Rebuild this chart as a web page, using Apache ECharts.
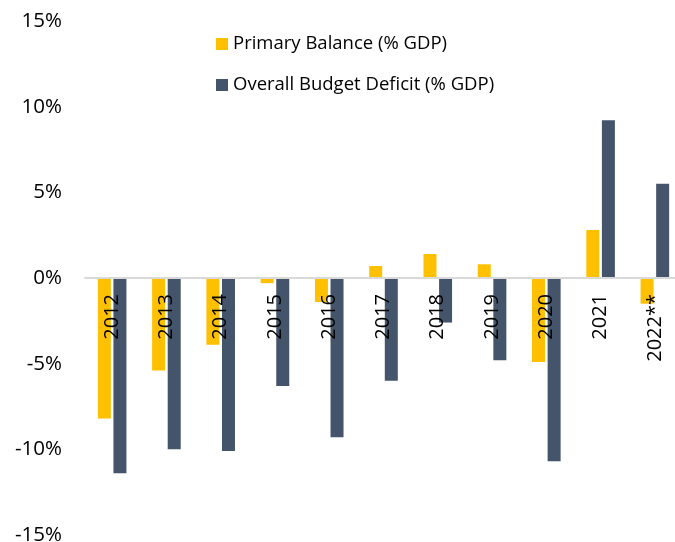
<!DOCTYPE html>
<html>
<head>
<meta charset="utf-8">
<script src="https://cdn.jsdelivr.net/npm/echarts@6/dist/echarts.min.js"></script>
<style>html,body{margin:0;padding:0;background:#fff;}#c{width:675px;height:542px;}</style>
</head>
<body>
<div id="c"></div>
<script>
const categories = ['2012','2013','2014','2015','2016','2017','2018','2019','2020','2021','2022**'];
const primaryBalance = [-8.2, -5.4, -3.9, -0.3, -1.4, 0.7, 1.4, 0.8, -4.9, 2.8, -1.5];
const overallDeficit = [-11.4, -10.0, -10.1, -6.3, -9.3, -6.0, -2.6, -4.8, -10.7, 9.2, 5.5];
const seriesNames = ['Primary Balance (% GDP)', 'Overall Budget Deficit (% GDP)'];
const yTicks = [-15, -10, -5, 0, 5, 10, 15];

const GRID_TOP = 21, GRID_H = 514;
const yMin = yTicks[0], yMax = yTicks[yTicks.length - 1];
const zeroOffset = GRID_H * (0 - yMin) / (yMax - yMin);

const chart = echarts.init(document.getElementById('c'));
const FONT = 'Open Sans';
chart.setOption({
  animation: false,
  textStyle: { fontFamily: FONT },
  legend: {
    orient: 'vertical',
    left: 216,
    top: 34,
    padding: 0,
    itemWidth: 12,
    itemHeight: 12,
    itemGap: 21,
    icon: 'rect',
    textStyle: { fontFamily: FONT, fontSize: 18.5, lineHeight: 20, color: '#000' },
    data: seriesNames
  },
  grid: { left: 85, top: GRID_TOP, width: 597, height: GRID_H, containLabel: false, outerBoundsMode: 'none' },
  xAxis: {
    type: 'category',
    data: categories,
    position: 'bottom',
    offset: -zeroOffset,
    z: 5,
    axisLine: { onZero: false, lineStyle: { color: '#d9d9d9', width: 2 } },
    axisTick: { show: false },
    axisLabel: { rotate: 90, fontSize: 20, color: '#000', margin: 16, fontFamily: FONT }
  },
  yAxis: {
    type: 'value',
    min: yMin,
    max: yMax,
    interval: 5,
    axisLine: { show: false },
    axisTick: { show: false },
    splitLine: { show: false },
    axisLabel: { fontSize: 20.5, color: '#000', margin: 23, fontFamily: FONT, formatter: v => v + '%' }
  },
  series: [
    { name: seriesNames[0], type: 'bar', data: primaryBalance, barWidth: 13, barGap: '20%', itemStyle: { color: '#FFC000' } },
    { name: seriesNames[1], type: 'bar', data: overallDeficit, barWidth: 13, itemStyle: { color: '#44546A' } }
  ]
});
</script>
</body>
</html>
